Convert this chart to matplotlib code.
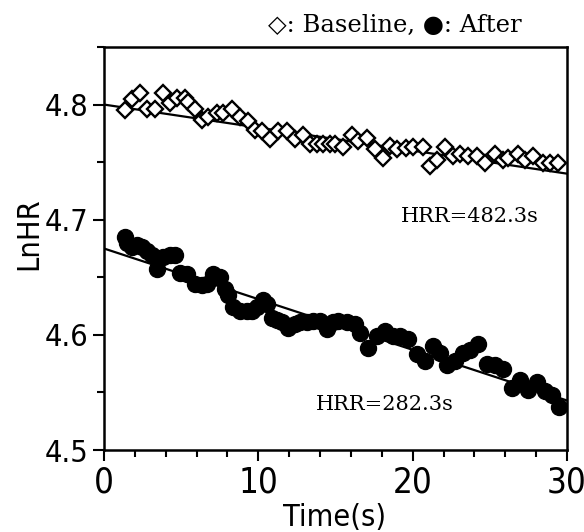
import os
import matplotlib
matplotlib.use("Agg")
import matplotlib.pyplot as plt
import matplotlib.font_manager as fm
from matplotlib.ticker import MultipleLocator

# ---- data ----
base_t = [1.36, 1.79, 2.33, 2.77, 3.31, 3.85, 4.28, 4.71, 5.25, 5.47, 5.90, 6.33, 6.76,
          7.30, 7.73, 8.27, 8.81, 9.35, 9.79, 10.22, 10.76, 11.30, 11.84, 12.38, 12.92,
          13.35, 13.78, 14.21, 14.65, 14.97, 15.51, 16.05, 16.48, 17.02, 17.56, 18.06,
          18.54, 18.97, 19.57, 20.05, 20.69, 21.13, 21.56, 22.10, 22.64, 23.07, 23.61,
          24.15, 24.69, 25.34, 25.88, 26.20, 26.85, 27.28, 27.82, 28.47, 28.90, 29.44]
base_y = [4.795, 4.805, 4.810, 4.796, 4.796, 4.810, 4.801, 4.806, 4.806, 4.802, 4.796,
          4.787, 4.789, 4.793, 4.793, 4.796, 4.789, 4.786, 4.778, 4.777, 4.770, 4.777,
          4.777, 4.770, 4.774, 4.766, 4.766, 4.766, 4.766, 4.766, 4.763, 4.774, 4.768,
          4.771, 4.761, 4.754, 4.764, 4.761, 4.762, 4.763, 4.763, 4.747, 4.752, 4.763,
          4.755, 4.757, 4.755, 4.755, 4.749, 4.757, 4.752, 4.754, 4.757, 4.752, 4.755,
          4.749, 4.749, 4.749]

after_t = [1.36, 1.47, 1.79, 2.12, 2.44, 2.77, 3.09, 3.41, 3.85, 4.28, 4.60, 4.93, 5.36,
           5.90, 6.33, 6.66, 7.09, 7.52, 7.84, 8.06, 8.38, 8.81, 9.25, 9.57, 9.90, 10.33,
           10.54, 10.87, 11.19, 11.52, 11.94, 12.38, 12.70, 13.14, 13.56, 14.00, 14.43,
           14.86, 15.19, 15.73, 16.27, 16.59, 17.13, 17.67, 18.21, 18.75, 19.18, 19.72,
           20.27, 20.80, 21.34, 21.78, 22.21, 22.75, 23.29, 23.72, 24.26, 24.80, 25.34,
           25.88, 26.42, 26.96, 27.50, 28.04, 28.58, 29.02, 29.46]
after_y = [4.685, 4.680, 4.676, 4.678, 4.676, 4.673, 4.669, 4.657, 4.668, 4.669, 4.669,
           4.654, 4.653, 4.644, 4.643, 4.644, 4.653, 4.650, 4.640, 4.635, 4.624, 4.621,
           4.621, 4.621, 4.624, 4.630, 4.627, 4.615, 4.613, 4.611, 4.606, 4.609, 4.611,
           4.611, 4.612, 4.612, 4.605, 4.611, 4.612, 4.611, 4.609, 4.602, 4.589, 4.599,
           4.603, 4.599, 4.599, 4.596, 4.583, 4.577, 4.590, 4.584, 4.574, 4.577, 4.584,
           4.587, 4.592, 4.575, 4.574, 4.570, 4.554, 4.561, 4.552, 4.559, 4.551, 4.548,
           4.537]

base_fit_t = [0, 30]
base_fit_y = [4.800, 4.740]
after_fit_t = [0, 30]
after_fit_y = [4.675, 4.543]

xticks = [0, 10, 20, 30]
yticks = [4.5, 4.6, 4.7, 4.8]
ytick_labels = ["4.5", "4.6", "4.7", "4.8"]


def narrow_font():
    prefs = ["liberationsansnarrow-regular", "notosans-condensed.", "notosans-condensedregular",
             "dejavusanscondensed.", "notosans-semicondensed.", "robotocondensed-regular"]
    files = [f.fname for f in fm.fontManager.ttflist]
    for p in prefs:
        for fn in files:
            if p in os.path.basename(fn).lower():
                return fn
    for fn in files:
        b = os.path.basename(fn).lower()
        if ("narrow" in b or "condensed" in b) and "bold" not in b and "italic" not in b \
                and "oblique" not in b and "extra" not in b and "light" not in b:
            return fn
    return None


nf = narrow_font()


def lab_fp(size):
    if nf:
        return fm.FontProperties(fname=nf, size=size)
    return fm.FontProperties(family="DejaVu Sans", stretch="condensed", size=size)


serif_font = ["DejaVu Serif", "DejaVu Sans"]

fig = plt.figure(figsize=(5.84, 5.32), dpi=100)
ax = fig.add_axes([104 / 584, 1 - 450 / 532, (567 - 104) / 584, (450 - 47) / 532])

ax.plot(base_fit_t, base_fit_y, color="black", lw=1.6, zorder=2)
ax.plot(after_fit_t, after_fit_y, color="black", lw=1.6, zorder=2)
ax.plot(base_t, base_y, linestyle="none", marker="D", ms=7.8, mfc="white",
        mec="black", mew=1.7, zorder=3)
ax.plot(after_t, after_y, linestyle="none", marker="o", ms=11.5, mfc="black",
        mec="black", zorder=3)

ax.set_xlim(0, 30)
ax.set_ylim(4.5, 4.85)
ax.set_xticks(xticks)
ax.set_xticklabels([str(v) for v in xticks], fontproperties=lab_fp(25))
ax.set_yticks(yticks)
ax.set_yticklabels(ytick_labels, fontproperties=lab_fp(22))
ax.xaxis.set_minor_locator(MultipleLocator(2))
ax.yaxis.set_minor_locator(MultipleLocator(0.05))
ax.tick_params(axis="both", which="major", direction="out", length=8, width=1.5,
               top=False, right=False, pad=3)
ax.tick_params(axis="both", which="minor", direction="out", length=5, width=1.5,
               top=False, right=False)
for sp in ax.spines.values():
    sp.set_linewidth(1.8)

ax.set_xlabel("Time(s)", fontproperties=lab_fp(22), va="center")
ax.xaxis.set_label_coords(0.497, -0.168)
ax.set_ylabel("LnHR", fontproperties=lab_fp(22), va="center")
ax.yaxis.set_label_coords(-0.162, 0.536)

fig.text(470 / 584, 1 - 217 / 532, "HRR=482.3s", family=serif_font, fontsize=15,
         ha="center", va="center")
fig.text(385 / 584, 1 - 405 / 532, "HRR=282.3s", family=serif_font, fontsize=15,
         ha="center", va="center")
fig.text(395 / 584, 1 - 25 / 532, "\u25C7: Baseline, \u25CF: After", family=serif_font,
         fontsize=17.5, ha="center", va="center")

fig.savefig("out.png", dpi=100)
